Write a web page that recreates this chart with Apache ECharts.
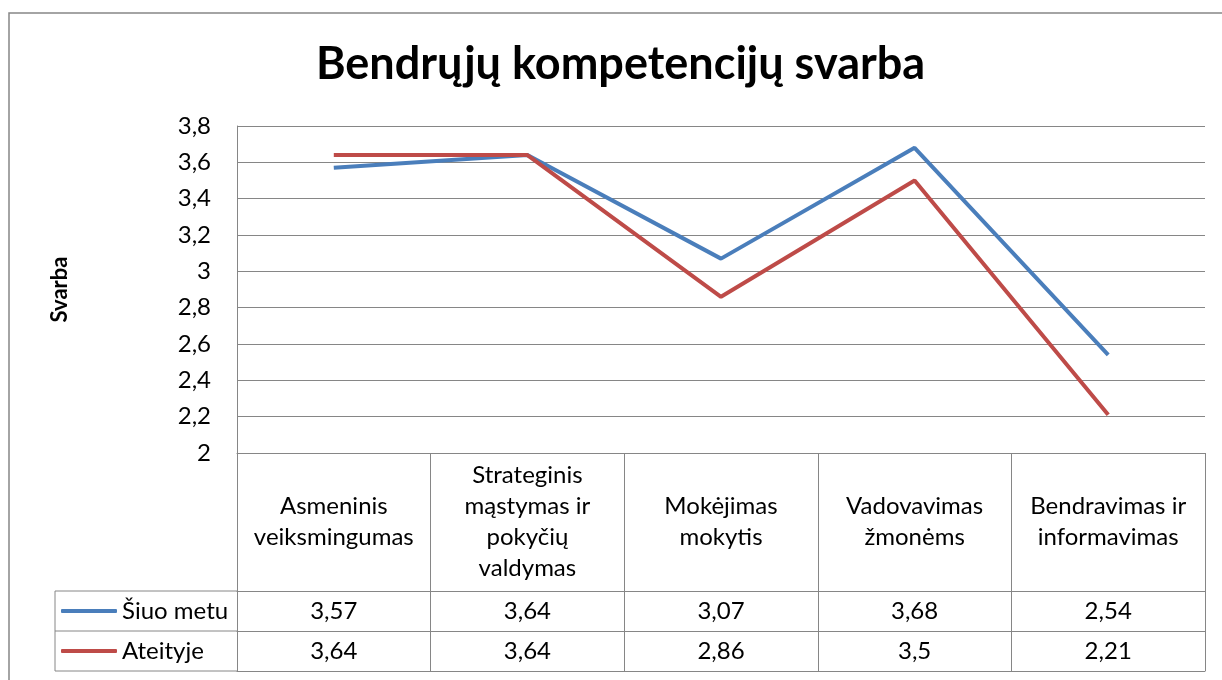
<!DOCTYPE html>
<html>
<head>
<meta charset="utf-8">
<script src="https://cdn.jsdelivr.net/npm/echarts@6/dist/echarts.min.js"></script>
<style>
  html, body { margin: 0; padding: 0; background: #fff; }
  #chart { width: 1222px; height: 680px; }
</style>
</head>
<body>
<div id="chart"></div>
<script>
// data
const categories = [
  'Asmeninis\nveiksmingumas',
  'Strateginis\nmąstymas ir\npokyčių\nvaldymas',
  'Mokėjimas\nmokytis',
  'Vadovavimas\nžmonėms',
  'Bendravimas ir\ninformavimas'
]
const seriesNames = ['Šiuo metu', 'Ateityje']
const currentValues = [3.57, 3.64, 3.07, 3.68, 2.54]
const futureValues = [3.64, 3.64, 2.86, 3.5, 2.21]
const yTicks = [2, 2.2, 2.4, 2.6, 2.8, 3, 3.2, 3.4, 3.6, 3.8]

const FONT = 'Lato'
const GRAY = '#868686'
const comma = v => String(+(+v).toFixed(2)).replace('.', ',')

const chart = echarts.init(document.getElementById('chart'))

// table rows under the plot, offsets from the x axis line
const rowTop = 138
const rowH = 40

const option = {
  animation: false,
  color: ['#4A7EBB', '#BE4B48'],
  title: {
    text: 'Bendrųjų kompetencijų svarba',
    left: 316,
    top: 42,
    padding: 0,
    textStyle: { fontFamily: FONT, fontWeight: 'bold', fontSize: 45, color: '#000' }
  },
  legend: {
    data: seriesNames,
    orient: 'vertical',
    left: 61,
    top: 453 + rowTop,
    padding: 0,
    itemGap: 0,
    icon: 'roundRect',
    itemWidth: 56,
    itemHeight: 4,
    textStyle: { fontFamily: FONT, fontSize: 24, color: '#000', lineHeight: rowH }
  },
  grid: { left: 237, right: 17, top: 126, bottom: 227 },
  xAxis: [
    {
      type: 'category',
      data: categories,
      boundaryGap: true,
      axisLine: { show: true, lineStyle: { color: GRAY, width: 1 } },
      axisTick: { show: true, interval: 0, length: rowTop + 2 * rowH, lineStyle: { color: GRAY, width: 1 } },
      axisLabel: {
        interval: 0,
        margin: 69,
        verticalAlign: 'middle',
        align: 'center',
        lineHeight: 31,
        fontFamily: FONT,
        fontSize: 24,
        color: '#000'
      }
    },
    {
      type: 'category',
      data: categories,
      offset: rowTop,
      position: 'bottom',
      axisLine: { show: true, lineStyle: { color: GRAY, width: 1 } },
      axisTick: { show: false },
      axisLabel: {
        interval: 0,
        margin: rowH / 2,
        verticalAlign: 'middle',
        fontFamily: FONT,
        fontSize: 24,
        color: '#000',
        formatter: (v, i) => comma(currentValues[i])
      }
    },
    {
      type: 'category',
      data: categories,
      offset: rowTop + rowH,
      position: 'bottom',
      axisLine: { show: true, lineStyle: { color: GRAY, width: 1 } },
      axisTick: { show: false },
      axisLabel: {
        interval: 0,
        margin: rowH / 2,
        verticalAlign: 'middle',
        fontFamily: FONT,
        fontSize: 24,
        color: '#000',
        formatter: (v, i) => comma(futureValues[i])
      }
    },
    {
      type: 'category',
      data: categories,
      offset: rowTop + 2 * rowH,
      position: 'bottom',
      axisLine: { show: true, lineStyle: { color: GRAY, width: 1 } },
      axisTick: { show: false },
      axisLabel: { show: false }
    }
  ],
  yAxis: {
    type: 'value',
    min: yTicks[0],
    max: yTicks[yTicks.length - 1],
    interval: 0.2,
    name: 'Svarba',
    nameLocation: 'middle',
    nameRotate: 90,
    nameGap: 166,
    nameTextStyle: { fontFamily: FONT, fontWeight: 'bold', fontSize: 22, color: '#000' },
    axisLine: { show: true, lineStyle: { color: GRAY, width: 1 } },
    axisTick: { show: false },
    splitLine: { lineStyle: { color: GRAY, width: 1 } },
    axisLabel: {
      margin: 26,
      fontFamily: FONT,
      fontSize: 24,
      color: '#000',
      formatter: v => comma(v)
    }
  },
  series: [
    {
      name: seriesNames[0],
      type: 'line',
      data: currentValues,
      symbol: 'none',
      lineStyle: { width: 4 }
    },
    {
      name: seriesNames[1],
      type: 'line',
      data: futureValues,
      symbol: 'none',
      lineStyle: { width: 4 }
    }
  ],
  graphic: [
    // outer chart frame
    { type: 'rect', shape: { x: 9, y: 13, width: 1400, height: 900 }, style: { fill: 'none', stroke: GRAY, lineWidth: 1.5 }, silent: true },
    // legend column of the data table
    { type: 'polyline', shape: { points: [[237, 591], [55, 591], [55, 671], [237, 671]] }, style: { fill: 'none', stroke: GRAY, lineWidth: 1 }, silent: true },
    { type: 'line', shape: { x1: 55, y1: 631, x2: 237, y2: 631 }, style: { stroke: GRAY, lineWidth: 1 }, silent: true }
  ]
}

chart.setOption(option)
window.addEventListener('resize', () => chart.resize())
</script>
</body>
</html>
